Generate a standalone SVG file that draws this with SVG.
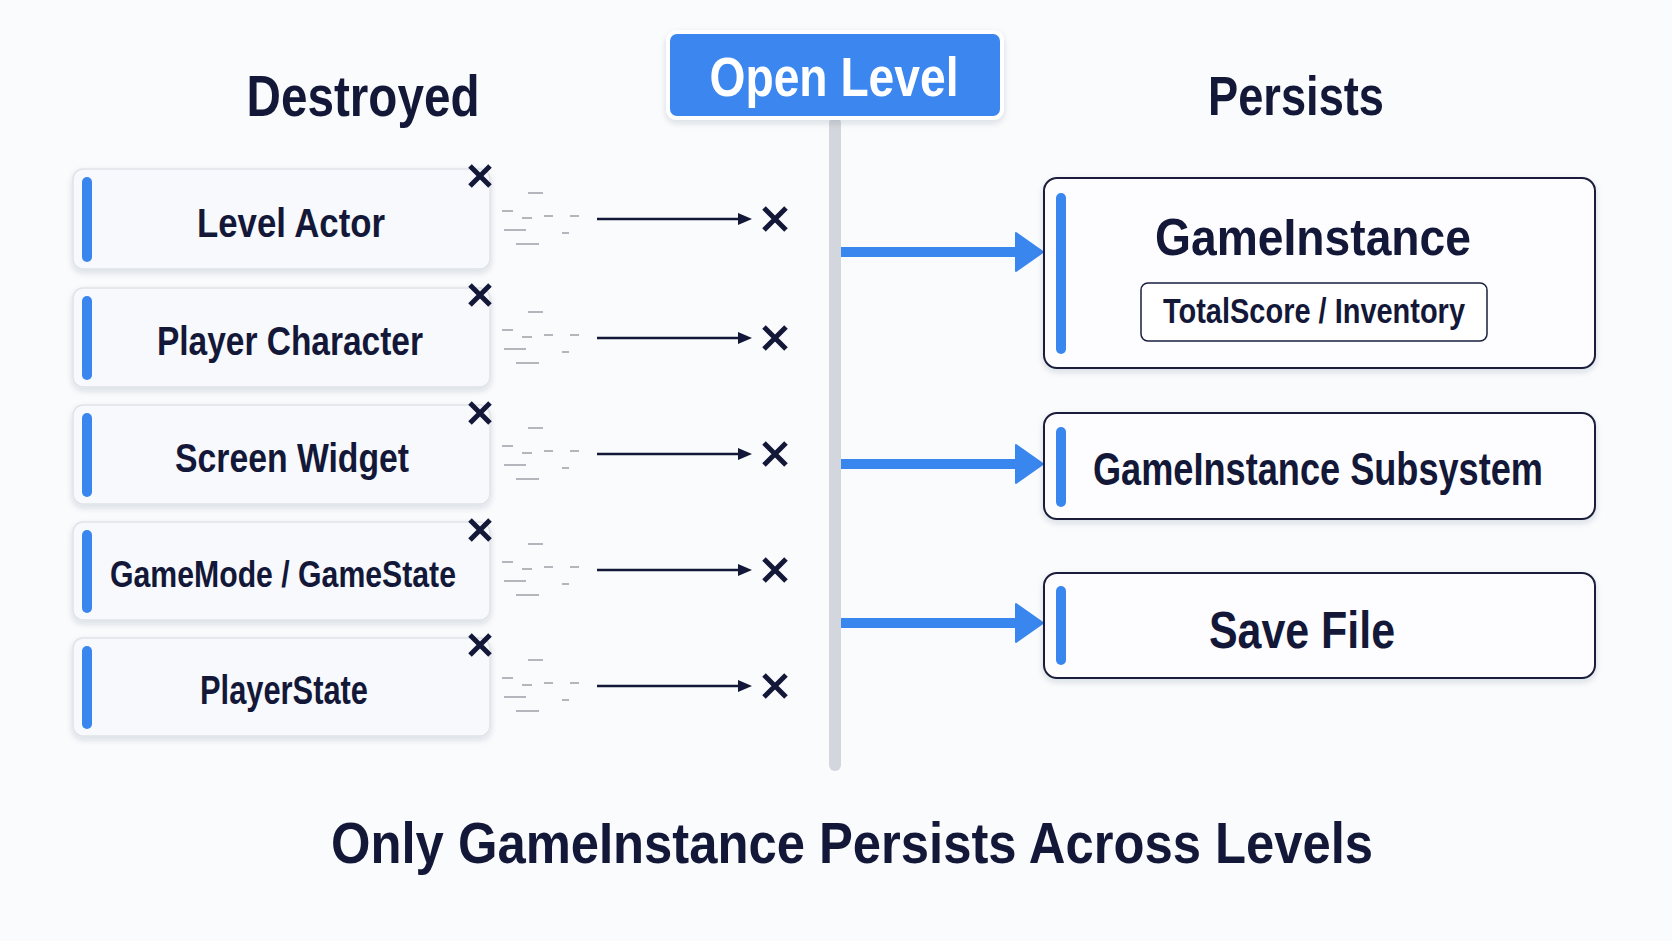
<svg xmlns="http://www.w3.org/2000/svg" width="1672" height="941" viewBox="0 0 1672 941">
<defs>
<style>
.t{font-family:"Liberation Sans",Arial,sans-serif;font-weight:bold;fill:#141838;text-anchor:middle}
.lbox{fill:#f7f9fc;stroke:#dfe3e9;stroke-width:1.5}
.rbox{fill:#fdfdff;stroke:#1a1f3d;stroke-width:2}
.bar{fill:#3a86ef}
.x{stroke:#141838;stroke-width:5;fill:none}
.dash{stroke:#b3b6bc;stroke-width:2}
.thin{stroke:#141838;stroke-width:2.5;fill:none}
.blue{stroke:#3a86ef;stroke-width:10;fill:none}
</style>
<filter id="sh" x="-10%" y="-20%" width="120%" height="150%">
<feDropShadow dx="0" dy="3" stdDeviation="3" flood-color="#1a2040" flood-opacity="0.14"/>
</filter>
<marker id="ah" markerUnits="userSpaceOnUse" markerWidth="14" markerHeight="12" refX="7" refY="6" orient="auto">
<path d="M0,0 L14,6 L0,12 z" fill="#141838"/>
</marker>
<marker id="bh" markerUnits="userSpaceOnUse" markerWidth="30" markerHeight="42" refX="5" refY="21" orient="auto">
<path d="M1,2 L28,21 L1,40 z" fill="#3a86ef" stroke="#3a86ef" stroke-width="2" stroke-linejoin="round"/>
</marker>
<g id="dashes">
<line class="dash" x1="528" y1="-26" x2="543" y2="-26"/>
<line class="dash" x1="502" y1="-8" x2="513" y2="-8"/>
<line class="dash" x1="522" y1="-1" x2="532" y2="-1"/>
<line class="dash" x1="544" y1="-3" x2="553" y2="-3"/>
<line class="dash" x1="570" y1="-3" x2="579" y2="-3"/>
<line class="dash" x1="504" y1="11" x2="526" y2="11"/>
<line class="dash" x1="562" y1="14" x2="569" y2="14"/>
<line class="dash" x1="516" y1="25" x2="539" y2="25"/>
</g>
</defs>
<rect width="1672" height="941" fill="#fafbfd"/>

<text class="t" x="363" y="116" font-size="58" textLength="233" lengthAdjust="spacingAndGlyphs">Destroyed</text>
<text class="t" x="1296" y="115" font-size="56" textLength="176" lengthAdjust="spacingAndGlyphs">Persists</text>

<g id="connectors">
<line x1="835" y1="123" x2="835" y2="765" stroke="#d3d6dc" stroke-width="12" stroke-linecap="round"/>
<line class="blue" x1="841" y1="252" x2="1020" y2="252" marker-end="url(#bh)"/>
<line class="blue" x1="841" y1="464" x2="1020" y2="464" marker-end="url(#bh)"/>
<line class="blue" x1="841" y1="623" x2="1020" y2="623" marker-end="url(#bh)"/>
<g id="row-arrows">
<use href="#dashes" y="219"/>
<line class="thin" x1="597" y1="219" x2="745" y2="219" marker-end="url(#ah)"/>
<path class="x" d="M764,208 L786,230 M786,208 L764,230"/>
<use href="#dashes" y="338"/>
<line class="thin" x1="597" y1="338" x2="745" y2="338" marker-end="url(#ah)"/>
<path class="x" d="M764,327 L786,349 M786,327 L764,349"/>
<use href="#dashes" y="454"/>
<line class="thin" x1="597" y1="454" x2="745" y2="454" marker-end="url(#ah)"/>
<path class="x" d="M764,443 L786,465 M786,443 L764,465"/>
<use href="#dashes" y="570"/>
<line class="thin" x1="597" y1="570" x2="745" y2="570" marker-end="url(#ah)"/>
<path class="x" d="M764,559 L786,581 M786,559 L764,581"/>
<use href="#dashes" y="686"/>
<line class="thin" x1="597" y1="686" x2="745" y2="686" marker-end="url(#ah)"/>
<path class="x" d="M764,675 L786,697 M786,675 L764,697"/>
</g>
</g>

<g id="open-level">
<rect x="668" y="32" width="334" height="86" rx="9" fill="#3a86ef" stroke="#ffffff" stroke-width="4" filter="url(#sh)"/>
<text x="834" y="96" font-family="Liberation Sans, Arial, sans-serif" font-weight="bold" font-size="56" fill="#ffffff" text-anchor="middle" textLength="249" lengthAdjust="spacingAndGlyphs">Open Level</text>
</g>

<g id="level-actor">
<rect class="lbox" x="73" y="169" width="417" height="100" rx="10" filter="url(#sh)"/>
<rect class="bar" x="82" y="177" width="10" height="85" rx="5"/>
<text class="t" x="291" y="237" font-size="40" textLength="188" lengthAdjust="spacingAndGlyphs">Level Actor</text>
<path class="x" d="M470,166 L490,186 M490,166 L470,186"/>
</g>
<g id="player-character">
<rect class="lbox" x="73" y="288" width="417" height="99" rx="10" filter="url(#sh)"/>
<rect class="bar" x="82" y="296" width="10" height="84" rx="5"/>
<text class="t" x="290" y="355" font-size="40" textLength="266" lengthAdjust="spacingAndGlyphs">Player Character</text>
<path class="x" d="M470,285 L490,305 M490,285 L470,305"/>
</g>
<g id="screen-widget">
<rect class="lbox" x="73" y="405" width="417" height="99" rx="10" filter="url(#sh)"/>
<rect class="bar" x="82" y="413" width="10" height="84" rx="5"/>
<text class="t" x="292" y="472" font-size="40" textLength="234" lengthAdjust="spacingAndGlyphs">Screen Widget</text>
<path class="x" d="M470,403 L490,423 M490,403 L470,423"/>
</g>
<g id="gamemode-gamestate">
<rect class="lbox" x="73" y="522" width="417" height="98" rx="10" filter="url(#sh)"/>
<rect class="bar" x="82" y="530" width="10" height="83" rx="5"/>
<text class="t" x="283" y="587" font-size="37" textLength="346" lengthAdjust="spacingAndGlyphs">GameMode / GameState</text>
<path class="x" d="M470,520 L490,540 M490,520 L470,540"/>
</g>
<g id="playerstate">
<rect class="lbox" x="73" y="638" width="417" height="98" rx="10" filter="url(#sh)"/>
<rect class="bar" x="82" y="646" width="10" height="83" rx="5"/>
<text class="t" x="284" y="704" font-size="40" textLength="168" lengthAdjust="spacingAndGlyphs">PlayerState</text>
<path class="x" d="M470,635 L490,655 M490,635 L470,655"/>
</g>

<g id="gameinstance">
<rect class="rbox" x="1044" y="178" width="551" height="190" rx="13" filter="url(#sh)"/>
<rect class="bar" x="1056" y="193" width="10" height="161" rx="5"/>
<text class="t" x="1313" y="255" font-size="52" textLength="316" lengthAdjust="spacingAndGlyphs">GameInstance</text>
<rect x="1141" y="283" width="346" height="58" rx="7" fill="#ffffff" stroke="#1a1f3d" stroke-width="1.5"/>
<text class="t" x="1314" y="323" font-size="35" textLength="302" lengthAdjust="spacingAndGlyphs">TotalScore / Inventory</text>
</g>
<g id="gameinstance-subsystem">
<rect class="rbox" x="1044" y="413" width="551" height="106" rx="13" filter="url(#sh)"/>
<rect class="bar" x="1056" y="427" width="10" height="80" rx="5"/>
<text class="t" x="1318" y="485" font-size="46" textLength="450" lengthAdjust="spacingAndGlyphs">GameInstance Subsystem</text>
</g>
<g id="save-file">
<rect class="rbox" x="1044" y="573" width="551" height="105" rx="13" filter="url(#sh)"/>
<rect class="bar" x="1056" y="586" width="10" height="79" rx="5"/>
<text class="t" x="1302" y="648" font-size="52" textLength="186" lengthAdjust="spacingAndGlyphs">Save File</text>
</g>

<text class="t" x="852" y="863" font-size="57" textLength="1042" lengthAdjust="spacingAndGlyphs">Only GameInstance Persists Across Levels</text>
</svg>
